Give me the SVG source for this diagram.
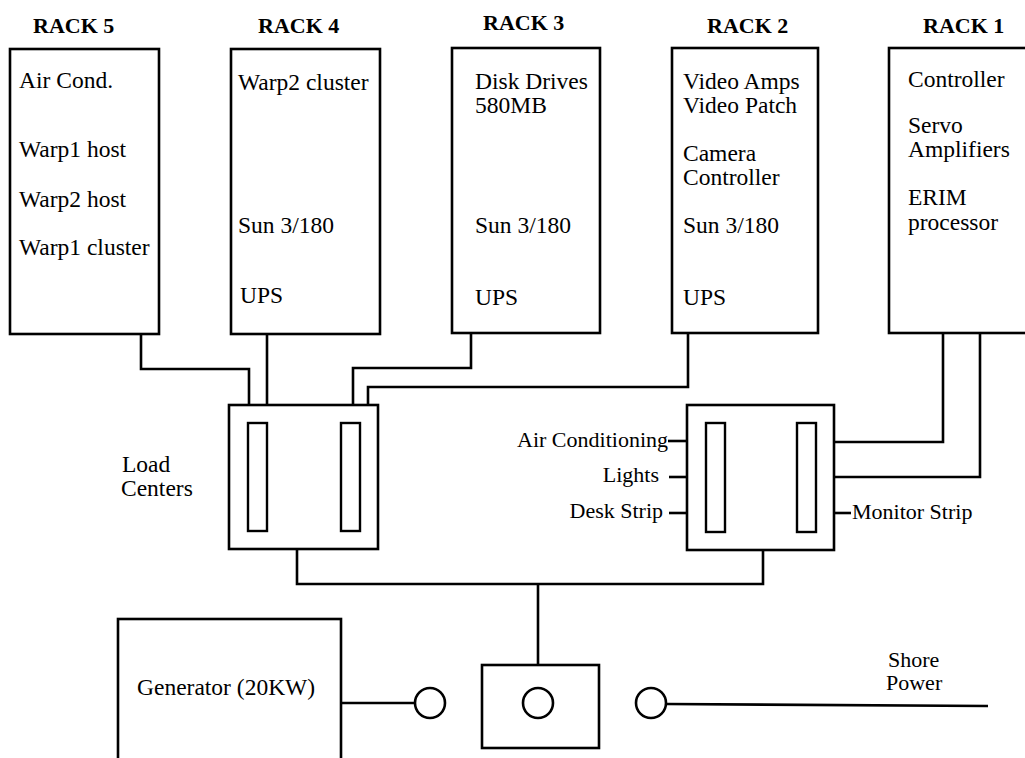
<svg xmlns="http://www.w3.org/2000/svg" width="1025" height="758" viewBox="0 0 1025 758">
<style>
.box{fill:#fff;stroke:#000;stroke-width:2.6}
.slot{fill:#fff;stroke:#000;stroke-width:2.4}
.wire{fill:none;stroke:#000;stroke-width:2.6}
.t{font-family:"Liberation Serif","Times New Roman",serif;font-size:23.5px;fill:#000}
.h{font-family:"Liberation Serif","Times New Roman",serif;font-size:22px;font-weight:bold;fill:#000}
.s{font-family:"Liberation Serif","Times New Roman",serif;font-size:22px;fill:#000}
</style>
<rect width="1025" height="758" fill="#fff"/>
<g id="connectors">
<polyline class="wire" points="141,334 141,369 249,369 249,405"/>
<line class="wire" x1="267" y1="334" x2="267" y2="405"/>
<polyline class="wire" points="471,333 471,368 353,368 353,405"/>
<polyline class="wire" points="688,333 688,387 368,387 368,405"/>
<polyline class="wire" points="943,333 943,442 834,442"/>
<polyline class="wire" points="980,333 980,477 834,477"/>
<line class="wire" x1="668" y1="441" x2="687" y2="441"/>
<line class="wire" x1="669" y1="477" x2="687" y2="477"/>
<line class="wire" x1="669" y1="513" x2="687" y2="513"/>
<line class="wire" x1="834" y1="513" x2="851" y2="513"/>
<polyline class="wire" points="297,549 297,584 763,584 763,550"/>
<line class="wire" x1="538" y1="584" x2="538" y2="666"/>
<line class="wire" x1="341" y1="703" x2="415" y2="703"/>
<line class="wire" x1="666" y1="704" x2="988" y2="706"/>
</g>
<g id="rack5">
<text class="h" x="33" y="33">RACK 5</text>
<rect class="box" x="10" y="49" width="149" height="285"/>
<text class="t" x="19" y="88">Air Cond.</text>
<text class="t" x="19" y="157">Warp1 host</text>
<text class="t" x="19" y="207">Warp2 host</text>
<text class="t" x="19" y="255">Warp1 cluster</text>
</g>
<g id="rack4">
<text class="h" x="258" y="33">RACK 4</text>
<rect class="box" x="231" y="49" width="149" height="285"/>
<text class="t" x="238" y="90">Warp2 cluster</text>
<text class="t" x="238" y="233">Sun 3/180</text>
<text class="t" x="240" y="303">UPS</text>
</g>
<g id="rack3">
<text class="h" x="483" y="30">RACK 3</text>
<rect class="box" x="452" y="48" width="148" height="285"/>
<text class="t" x="475" y="89">Disk Drives<tspan x="475" dy="24">580MB</tspan></text>
<text class="t" x="475" y="233">Sun 3/180</text>
<text class="t" x="475" y="305">UPS</text>
</g>
<g id="rack2">
<text class="h" x="707" y="33">RACK 2</text>
<rect class="box" x="672" y="48" width="146" height="285"/>
<text class="t" x="683" y="89">Video Amps<tspan x="683" dy="24">Video Patch</tspan></text>
<text class="t" x="683" y="161">Camera<tspan x="683" dy="24">Controller</tspan></text>
<text class="t" x="683" y="233">Sun 3/180</text>
<text class="t" x="683" y="305">UPS</text>
</g>
<g id="rack1">
<text class="h" x="923" y="33">RACK 1</text>
<rect class="box" x="889" y="48" width="140" height="285"/>
<text class="t" x="908" y="87">Controller</text>
<text class="t" x="908" y="133">Servo<tspan x="908" dy="24">Amplifiers</tspan></text>
<text class="t" x="908" y="205">ERIM<tspan x="908" dy="25">processor</tspan></text>
</g>
<g id="load-center-1">
<rect class="box" x="229" y="405" width="149" height="144"/>
<rect class="slot" x="248" y="423" width="19" height="108"/>
<rect class="slot" x="341" y="423" width="19" height="108"/>
<text class="t" x="122" y="472">Load<tspan x="121" dy="24">Centers</tspan></text>
</g>
<g id="load-center-2">
<rect class="box" x="687" y="405" width="147" height="145"/>
<rect class="slot" x="706" y="423" width="19" height="109"/>
<rect class="slot" x="797" y="423" width="19" height="109"/>
<text class="s" x="668" y="447" text-anchor="end">Air Conditioning</text>
<text class="s" x="659" y="482" text-anchor="end">Lights</text>
<text class="s" x="663" y="518" text-anchor="end">Desk Strip</text>
<text class="s" x="852" y="519">Monitor Strip</text>
</g>
<g id="generator">
<rect class="box" x="118" y="619" width="223" height="150"/>
<text class="s" x="137" y="695" style="font-size:23.5px">Generator (20KW)</text>
<circle class="box" cx="430" cy="703" r="15"/>
</g>
<g id="transfer-switch">
<rect class="box" x="482" y="665" width="117" height="83"/>
<circle class="box" cx="538" cy="703" r="15"/>
</g>
<g id="shore-power">
<circle class="box" cx="651" cy="703" r="15"/>
<text class="s" x="888" y="667">Shore<tspan x="886" dy="23">Power</tspan></text>
</g>
</svg>
